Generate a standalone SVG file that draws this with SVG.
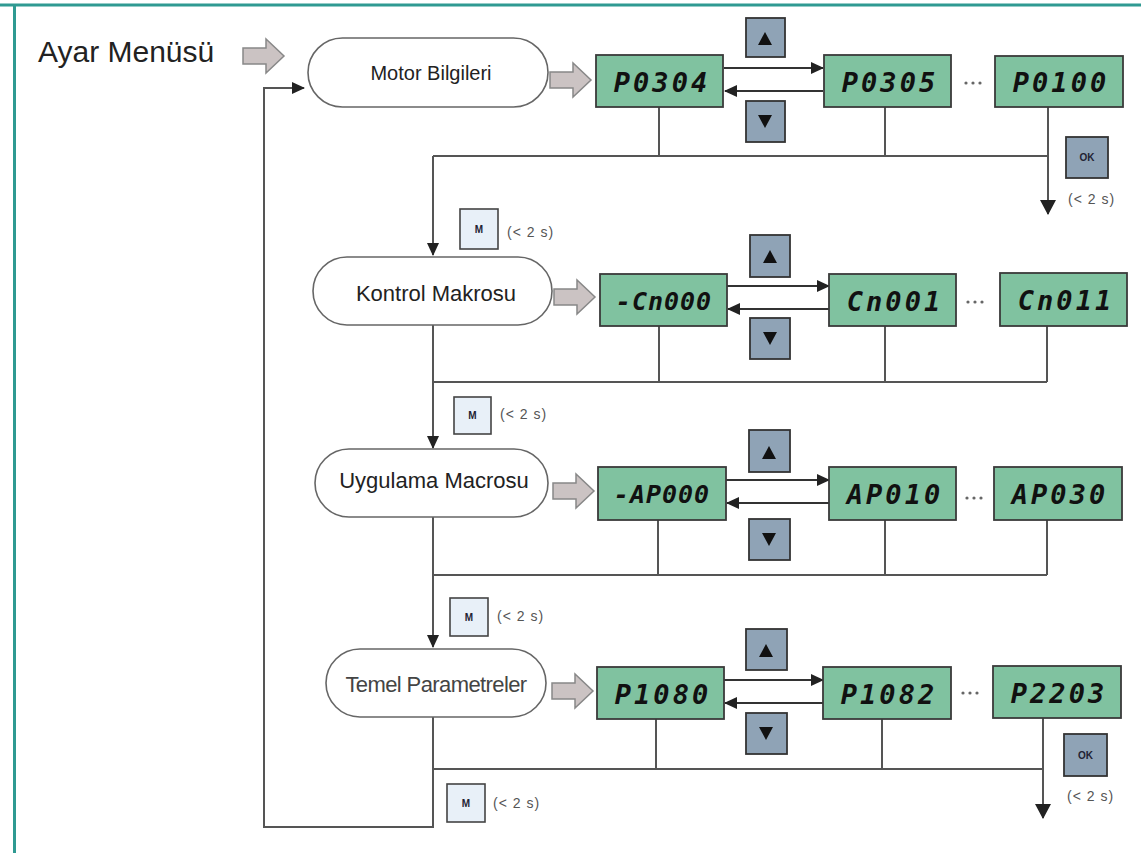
<svg xmlns="http://www.w3.org/2000/svg" xmlns:xlink="http://www.w3.org/1999/xlink" width="1141" height="853" viewBox="0 0 1141 853">
<style>
.conn{fill:none;stroke:#555;stroke-width:2}
.arr{fill:none;stroke:#333;stroke-width:2}
.oval{fill:#fff;stroke:#666;stroke-width:1.6}
.otxt{font-family:"Liberation Sans",Arial,sans-serif;font-size:22px;fill:#222;text-anchor:middle}
.lcd{fill:#80c2a0;stroke:#3a3a3a;stroke-width:1.8}
.lcdt{font-family:"DejaVu Sans Mono",monospace;font-weight:bold;font-style:italic;font-size:27px;fill:#111;text-anchor:middle;letter-spacing:3px}
.lcd6{font-size:25px;letter-spacing:1px}
.btn{fill:#8fa3b6;stroke:#333;stroke-width:1.8}
.tri{fill:#111}
.mbtn{fill:#e8f0f8;stroke:#444;stroke-width:1.6}
.small{font-family:"Liberation Sans",Arial,sans-serif;font-size:14px;fill:#555;letter-spacing:1px}
.key{font-family:"Liberation Sans",Arial,sans-serif;font-size:10px;font-weight:bold;fill:#223;text-anchor:middle}
.garr{fill:#cbc3c3;stroke:#888;stroke-width:1.5}
.dot{fill:#666}
</style>
<defs>
<marker id="ah" markerWidth="13" markerHeight="12" refX="12" refY="6" orient="auto" markerUnits="userSpaceOnUse"><path d="M0,0 L13,6 L0,12 Z" fill="#222"/></marker>
<marker id="ahb" markerWidth="15" markerHeight="16" refX="14" refY="8" orient="auto" markerUnits="userSpaceOnUse"><path d="M0,0 L15,8 L0,16 Z" fill="#222"/></marker>
<path id="garrow" d="M0,-8 H23 V-17 L41,0 L23,17 V8 H0 Z"/>
</defs>
<rect x="0" y="0" width="1141" height="853" fill="#fff"/>
<g id="border">
<line x1="0" y1="5" x2="1141" y2="5" stroke="#2f9a92" stroke-width="3"/>
<line x1="14.5" y1="4" x2="14.5" y2="853" stroke="#2f9a92" stroke-width="3"/>
</g>
<g id="title">
<text x="38" y="62" font-family="Liberation Sans,Arial,sans-serif" font-size="30" fill="#222">Ayar Menüsü</text>
<use xlink:href="#garrow" href="#garrow" x="243" y="56" class="garr"/>
</g>

<g id="connectors">
<polyline class="conn" points="433,717 433,827 264,827 264,88 304,88" marker-end="url(#ah)"/>
<line class="arr" x1="724" y1="68" x2="823" y2="68" marker-end="url(#ah)"/>
<line class="arr" x1="823" y1="91" x2="725" y2="91" marker-end="url(#ah)"/>
<line class="conn" x1="659" y1="107" x2="659" y2="156"/>
<line class="conn" x1="885" y1="107" x2="885" y2="156"/>
<line class="conn" x1="433" y1="156" x2="1048" y2="156"/>
<line class="conn" x1="1048" y1="107" x2="1048" y2="214" marker-end="url(#ahb)"/>
<line class="conn" x1="433" y1="156" x2="433" y2="255" marker-end="url(#ah)"/>
<line class="arr" x1="727" y1="286" x2="829" y2="286" marker-end="url(#ah)"/>
<line class="arr" x1="829" y1="309" x2="728" y2="309" marker-end="url(#ah)"/>
<line class="conn" x1="659" y1="326" x2="659" y2="382"/>
<line class="conn" x1="885" y1="326" x2="885" y2="382"/>
<line class="conn" x1="1047" y1="326" x2="1047" y2="382"/>
<line class="conn" x1="433" y1="382" x2="1047" y2="382"/>
<line class="conn" x1="433" y1="325" x2="433" y2="448" marker-end="url(#ah)"/>
<line class="arr" x1="726" y1="480" x2="829" y2="480" marker-end="url(#ah)"/>
<line class="arr" x1="829" y1="503" x2="727" y2="503" marker-end="url(#ah)"/>
<line class="conn" x1="658" y1="520" x2="658" y2="575"/>
<line class="conn" x1="885" y1="520" x2="885" y2="575"/>
<line class="conn" x1="1047" y1="520" x2="1047" y2="575"/>
<line class="conn" x1="433" y1="575" x2="1047" y2="575"/>
<line class="conn" x1="433" y1="517" x2="433" y2="647" marker-end="url(#ah)"/>
<line class="arr" x1="724" y1="680" x2="823" y2="680" marker-end="url(#ah)"/>
<line class="arr" x1="823" y1="703" x2="725" y2="703" marker-end="url(#ah)"/>
<line class="conn" x1="656" y1="719" x2="656" y2="769"/>
<line class="conn" x1="882" y1="719" x2="882" y2="769"/>
<line class="conn" x1="433" y1="769" x2="1043" y2="769"/>
<line class="conn" x1="1043" y1="718" x2="1043" y2="818" marker-end="url(#ahb)"/>
</g>

<g id="motor-bilgileri">
<rect class="oval" x="308" y="38" width="240" height="69" rx="34.5"/>
<text class="otxt" x="431" y="80" style="font-size:20px">Motor Bilgileri</text>
</g>
<use xlink:href="#garrow" href="#garrow" x="550" y="80" class="garr"/>
<g id="p0304"><rect class="lcd" x="596" y="55" width="127" height="52"/><text class="lcdt" x="662" y="92">P0304</text></g>
<g id="p0305"><rect class="lcd" x="824" y="55" width="127" height="52"/><text class="lcdt" x="890" y="92">P0305</text></g>
<g id="p0100"><rect class="lcd" x="995" y="56" width="128" height="51"/><text class="lcdt" x="1061" y="92">P0100</text></g>
<g id="up1"><rect class="btn" x="746" y="18" width="39" height="39"/><polygon class="tri" points="758,45 772,45 765,32"/></g>
<g id="down1"><rect class="btn" x="746" y="101" width="39" height="41"/><polygon class="tri" points="758,115 772,115 765,128"/></g>
<g id="dots1"><circle class="dot" cx="966" cy="83" r="1.6"/><circle class="dot" cx="973" cy="83" r="1.6"/><circle class="dot" cx="980" cy="83" r="1.6"/></g>
<g id="ok1"><rect class="btn" x="1066" y="137" width="42" height="41"/><text class="key" x="1087" y="161">OK</text></g>
<text class="small" x="1068" y="204">(&lt; 2 s)</text>
<g id="m1"><rect class="mbtn" x="460" y="209" width="38" height="40"/><text class="key" x="479" y="233">M</text></g>
<text class="small" x="507" y="237">(&lt; 2 s)</text>

<g id="kontrol-makrosu">
<rect class="oval" x="313" y="257" width="239" height="68" rx="34"/>
<text class="otxt" x="436" y="301">Kontrol Makrosu</text>
</g>
<use xlink:href="#garrow" href="#garrow" x="554" y="297" class="garr"/>
<g id="cn000"><rect class="lcd" x="600" y="274" width="127" height="52"/><text class="lcdt lcd6" x="664" y="310">-Cn000</text></g>
<g id="cn001"><rect class="lcd" x="829" y="274" width="127" height="52"/><text class="lcdt" x="895" y="311">Cn001</text></g>
<g id="cn011"><rect class="lcd" x="1000" y="273" width="127" height="53"/><text class="lcdt" x="1066" y="310">Cn011</text></g>
<g id="up2"><rect class="btn" x="750" y="235" width="40" height="42"/><polygon class="tri" points="763,263 777,263 770,250"/></g>
<g id="down2"><rect class="btn" x="750" y="318" width="40" height="41"/><polygon class="tri" points="763,332 777,332 770,345"/></g>
<g id="dots2"><circle class="dot" cx="968" cy="302" r="1.6"/><circle class="dot" cx="975" cy="302" r="1.6"/><circle class="dot" cx="982" cy="302" r="1.6"/></g>
<g id="m2"><rect class="mbtn" x="454" y="397" width="37" height="37"/><text class="key" x="472.5" y="419">M</text></g>
<text class="small" x="500" y="419">(&lt; 2 s)</text>

<g id="uygulama-macrosu">
<rect class="oval" x="315" y="449" width="233" height="68" rx="34"/>
<text class="otxt" x="434" y="488">Uygulama Macrosu</text>
</g>
<use xlink:href="#garrow" href="#garrow" x="553" y="491" class="garr"/>
<g id="ap000"><rect class="lcd" x="598" y="467" width="128" height="53"/><text class="lcdt lcd6" x="662" y="503">-AP000</text></g>
<g id="ap010"><rect class="lcd" x="829" y="467" width="127" height="53"/><text class="lcdt" x="895" y="504">AP010</text></g>
<g id="ap030"><rect class="lcd" x="994" y="467" width="128" height="53"/><text class="lcdt" x="1060" y="504">AP030</text></g>
<g id="up3"><rect class="btn" x="749" y="430" width="41" height="42"/><polygon class="tri" points="762,459 776,459 769,446"/></g>
<g id="down3"><rect class="btn" x="749" y="519" width="41" height="41"/><polygon class="tri" points="762,533 776,533 769,546"/></g>
<g id="dots3"><circle class="dot" cx="967" cy="498" r="1.6"/><circle class="dot" cx="974" cy="498" r="1.6"/><circle class="dot" cx="981" cy="498" r="1.6"/></g>
<g id="m3"><rect class="mbtn" x="450" y="598" width="38" height="38"/><text class="key" x="469" y="621">M</text></g>
<text class="small" x="497" y="621">(&lt; 2 s)</text>

<g id="temel-parametreler">
<rect class="oval" x="326" y="649" width="220" height="68" rx="34"/>
<text class="otxt" x="436" y="692" style="fill:#444;letter-spacing:-0.6px">Temel Parametreler</text>
</g>
<use xlink:href="#garrow" href="#garrow" x="552" y="691" class="garr"/>
<g id="p1080"><rect class="lcd" x="597" y="667" width="127" height="52"/><text class="lcdt" x="663" y="704">P1080</text></g>
<g id="p1082"><rect class="lcd" x="823" y="667" width="128" height="52"/><text class="lcdt" x="889" y="704">P1082</text></g>
<g id="p2203"><rect class="lcd" x="993" y="666" width="128" height="52"/><text class="lcdt" x="1059" y="703">P2203</text></g>
<g id="up4"><rect class="btn" x="746" y="629" width="41" height="41"/><polygon class="tri" points="759,657 773,657 766,644"/></g>
<g id="down4"><rect class="btn" x="746" y="713" width="41" height="41"/><polygon class="tri" points="759,727 773,727 766,740"/></g>
<g id="dots4"><circle class="dot" cx="963" cy="693" r="1.6"/><circle class="dot" cx="970" cy="693" r="1.6"/><circle class="dot" cx="977" cy="693" r="1.6"/></g>
<g id="ok4"><rect class="btn" x="1064" y="734" width="43" height="42"/><text class="key" x="1085.5" y="759">OK</text></g>
<text class="small" x="1067" y="801">(&lt; 2 s)</text>
<g id="m4"><rect class="mbtn" x="447" y="784" width="38" height="38"/><text class="key" x="466" y="807">M</text></g>
<text class="small" x="493" y="808">(&lt; 2 s)</text>
</svg>
